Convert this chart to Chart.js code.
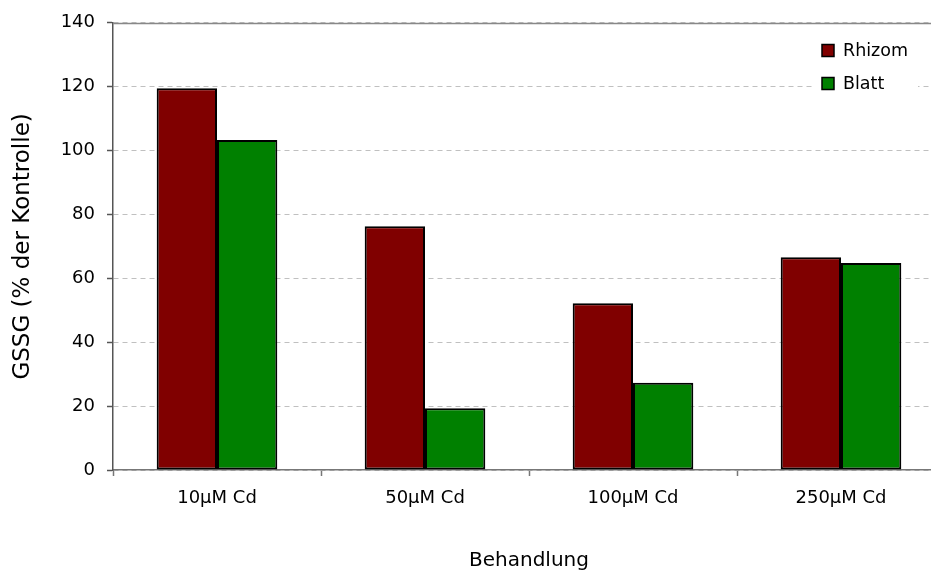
<!DOCTYPE html>
<html>
<head>
<meta charset="utf-8">
<script src="https://cdn.jsdelivr.net/npm/chart.js@4/dist/chart.umd.min.js"></script>
<style>
  html, body { margin: 0; padding: 0; overflow: hidden; background: #fff; }
  #wrap { width: 960px; height: 576px; }
</style>
</head>
<body>
<div id="wrap"><canvas id="c" width="960" height="576"></canvas></div>
<script>
const categories = ['10µM Cd', '50µM Cd', '100µM Cd', '250µM Cd'];
const rhizomValues = [119.5, 76.3, 52.2, 66.6];
const blattValues = [103.3, 19.3, 27.3, 64.8];
const seriesNames = ['Rhizom', 'Blatt'];
const seriesColors = ['#800000', '#008000'];
const yTicks = [0, 20, 40, 60, 80, 100, 120, 140];

const FONT = 'DejaVu Sans';

const topLinePlugin = {
  id: 'topLine',
  beforeDatasetsDraw(chart) {
    const { ctx, chartArea, scales } = chart;
    const y = Math.round(scales.y.getPixelForValue(yTicks[yTicks.length - 1])) + 0.5;
    ctx.save();
    ctx.strokeStyle = '#888888';
    ctx.lineWidth = 1.5;
    ctx.beginPath();
    ctx.moveTo(chartArea.left, y);
    ctx.lineTo(chartArea.right, y);
    ctx.stroke();
    ctx.restore();
  }
};

const innerLegendPlugin = {
  id: 'innerLegend',
  afterDraw(chart) {
    const { ctx } = chart;
    const ds = chart.data.datasets;
    ctx.save();
    ctx.fillStyle = '#ffffff';
    ctx.fillRect(812, 36, 106, 62);
    ctx.font = '17.5px "' + FONT + '"';
    ctx.textBaseline = 'middle';
    ctx.textAlign = 'left';
    ds.forEach((d, i) => {
      const cy = 50.5 + i * 33;
      ctx.fillStyle = d.backgroundColor;
      ctx.fillRect(822, cy - 6, 12, 12);
      ctx.strokeStyle = '#000';
      ctx.lineWidth = 1.5;
      ctx.strokeRect(822, cy - 6, 12, 12);
      ctx.fillStyle = '#000';
      ctx.fillText(d.label, 843, cy + 1);
    });
    ctx.restore();
  }
};

new Chart(document.getElementById('c'), {
  type: 'bar',
  data: {
    labels: categories,
    datasets: [
      { label: seriesNames[0], data: rhizomValues, backgroundColor: seriesColors[0], borderColor: '#000', borderWidth: 2, borderSkipped: false },
      { label: seriesNames[1], data: blattValues, backgroundColor: seriesColors[1], borderColor: '#000', borderWidth: 2, borderSkipped: false }
    ]
  },
  options: {
    responsive: false,
    animation: false,
    layout: { padding: { top: 20, right: 15, bottom: 0, left: 0 } },
    datasets: { bar: { categoryPercentage: 0.58, barPercentage: 1.0 } },
    plugins: { legend: { display: false }, tooltip: { enabled: false } },
    scales: {
      x: {
        offset: true,
        grid: { offset: true, drawOnChartArea: false, drawTicks: true, tickLength: 6, tickColor: '#777', tickWidth: 1.5 },
        border: { display: true, color: '#777', width: 1.5 },
        ticks: { color: '#000', font: { family: FONT, size: 18 }, padding: 12, maxRotation: 0 },
        title: { display: true, text: 'Behandlung', color: '#000', font: { family: FONT, size: 20 }, padding: { top: 0, bottom: 3 } },
        afterFit(scale) { scale.height = 106; }
      },
      y: {
        min: 0, max: 140,
        afterBuildTicks(scale) { scale.ticks = yTicks.map(v => ({ value: v })); },
        grid: { color: '#c0c0c0', lineWidth: 1, drawTicks: true, tickLength: 6, tickColor: '#555', tickWidth: 1.5, tickBorderDash: [] },
        border: { display: true, color: '#555', width: 1.5, dash: [5, 4] },
        ticks: { color: '#000', font: { family: FONT, size: 18 }, padding: 12 },
        title: { display: true, text: 'GSSG (% der Kontrolle)', color: '#000', font: { family: FONT, size: 23 }, padding: { top: 9, bottom: 0 } },
        afterFit(scale) { scale.width = 113; }
      }
    }
  },
  plugins: [topLinePlugin, innerLegendPlugin]
});
</script>
</body>
</html>
